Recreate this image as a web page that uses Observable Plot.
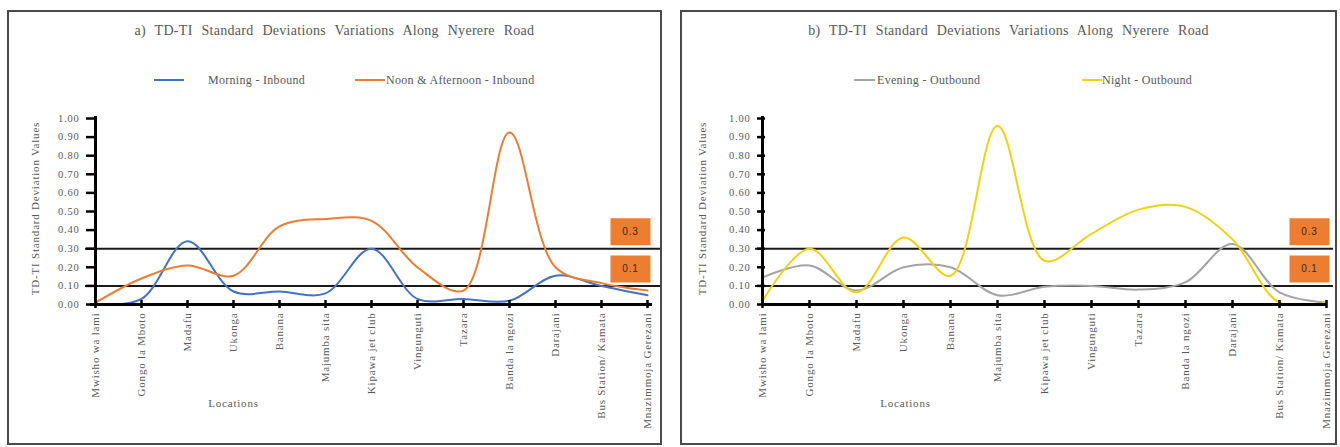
<!DOCTYPE html>
<html>
<head>
<meta charset="utf-8">
<script src="https://cdn.jsdelivr.net/npm/d3@7"></script>
<script src="https://cdn.jsdelivr.net/npm/@observablehq/plot@0.6"></script>
<style>
  html, body { margin: 0; padding: 0; background: #fff; }
  body { width: 1340px; height: 447px; position: relative; overflow: hidden; font-family: "Liberation Serif", serif; color: #595959; }
  .panel { position: absolute; top: 10px; height: 435px; border: 2px solid #4a4a4a; box-sizing: border-box; }
  .panel svg { position: absolute; left: 0; top: 0; }
  .title { position: absolute; top: 11px; left: 0; right: 0; text-align: center; font-size: 14px; word-spacing: 5px; letter-spacing: 0.3px; white-space: nowrap; }
  .sw { position: absolute; height: 2px; }
  .lt { position: absolute; font-size: 12px; line-height: 14px; white-space: nowrap; letter-spacing: 0.3px; }
</style>
</head>
<body>
<div id="pa" class="panel" style="left:7px;width:655px;"></div>
<div id="pb" class="panel" style="left:680px;width:657px;"></div>
<script>
// ---- data ----
const locations = ["Mwisho wa lami","Gongo la Mboto","Madafu","Ukonga","Banana","Majumba sita","Kipawa jet club","Vingunguti","Tazara","Banda la ngozi","Darajani","Bus Station/ Kamata","Mnazimmoja Gerezani"];
const morningInbound   = [0.00, 0.03, 0.34, 0.07, 0.07, 0.06, 0.30, 0.03, 0.03, 0.02, 0.155, 0.10, 0.05];
const noonInbound      = [0.01, 0.14, 0.21, 0.155, 0.42, 0.46, 0.45, 0.20, 0.075, 0.925, 0.20, 0.115, 0.075];
const eveningOutbound  = [0.145, 0.21, 0.075, 0.20, 0.20, 0.05, 0.095, 0.10, 0.08, 0.12, 0.325, 0.065, 0.01];
const nightOutbound    = [0.02, 0.30, 0.065, 0.36, 0.155, 0.96, 0.235, 0.38, 0.51, 0.525, 0.35, 0.01, 0.01];
const thresholds = [0.3, 0.1];
const yTicks = [0, 0.1, 0.2, 0.3, 0.4, 0.5, 0.6, 0.7, 0.8, 0.9, 1.0];
const titleA = "a) TD-TI Standard Deviations Variations Along Nyerere Road";
const titleB = "b) TD-TI Standard Deviations Variations Along Nyerere Road";
const yLabel = "TD-TI Standard Deviation Values";
const xLabel = "Locations";

const textColor = "#595959";
const boxColor = "#ED7D31";

const boxSymbol = { draw(ctx) { ctx.rect(-20, -13.5, 40, 27); } };

function rows(values) { return locations.map((loc, i) => ({loc, v: values[i]})); }

function buildPanel(el, cfg) {
  const W = cfg.width, H = 431;
  const frameW = W - cfg.ml - cfg.mr, frameH = H - 106 - 139;
  const last = locations[locations.length - 1];
  const marks = [
    Plot.ruleY(thresholds, {stroke: "#1a1a1a", strokeWidth: 2, insetLeft: cfg.ruleL, insetRight: cfg.ruleR}),
    ...cfg.series.map(s => Plot.line(rows(s.values), {x: "loc", y: "v", stroke: s.color, strokeWidth: 2, curve: "catmull-rom", clip: true})),
    Plot.ruleX([locations[0]], {stroke: "#000", strokeWidth: 3, insetTop: -2}),
    Plot.ruleY([0], {stroke: "#000", strokeWidth: 3}),
    Plot.ruleY(yTicks, {stroke: "#000", strokeWidth: 2.5, insetLeft: -4, insetRight: frameW - 4}),
    Plot.ruleX(locations, {stroke: "#000", strokeWidth: 2.5, insetTop: frameH - 4, insetBottom: -4}),
    Plot.axisY({ticks: yTicks, tickSize: 0, tickPadding: 11, tickFormat: ".2f", fontSize: 10.5, fill: textColor, label: null}),
    Plot.axisX({tickRotate: -90, tickSize: 0, tickPadding: 8, fontSize: 11, fill: textColor, label: null}),
    Plot.dot(thresholds, {x: () => last, y: d => d, symbol: boxSymbol, fill: boxColor, stroke: null, dx: -17, dy: -17}),
    Plot.text(thresholds, {x: () => last, y: d => d, text: d => String(d), dx: -17, dy: -17, fill: "#3a2a1e", fontSize: 10, fontFamily: "Liberation Sans"}),
    Plot.text([yLabel], {frameAnchor: "left", textAnchor: "middle", rotate: -90, dx: cfg.ylabDx, dy: -3, fontSize: 11, fill: textColor}),
    Plot.text([xLabel], {frameAnchor: "bottom-left", textAnchor: "middle", dx: cfg.xlabDx, dy: 102, fontSize: 11, fill: textColor})
  ];
  const svg = Plot.plot({
    width: W, height: H,
    marginLeft: cfg.ml, marginRight: cfg.mr, marginTop: 106, marginBottom: 139,
    x: {type: "point", domain: locations, padding: 0, axis: null},
    y: {domain: [0, 1], axis: null},
    style: {fontFamily: "Liberation Serif", color: textColor, background: "transparent", overflow: "visible"},
    marks
  });
  svg.querySelectorAll("text").forEach(t => t.setAttribute("letter-spacing", "0.8"));
  el.appendChild(svg);

  const title = document.createElement("div");
  title.className = "title";
  title.textContent = cfg.title;
  el.appendChild(title);

  cfg.legend.forEach(item => {
    const sw = document.createElement("div");
    sw.className = "sw";
    sw.style.left = item.lineX + "px";
    sw.style.width = item.lineW + "px";
    sw.style.top = "67px";
    sw.style.background = item.color;
    el.appendChild(sw);
    const lt = document.createElement("div");
    lt.className = "lt";
    lt.style.left = item.textX + "px";
    lt.style.top = "61px";
    lt.textContent = item.label;
    el.appendChild(lt);
  });
}

buildPanel(document.getElementById("pa"), {
  width: 651, ml: 81, mr: 8, ruleL: -5, ruleR: -8, ylabDx: -55, xlabDx: 143,
  title: titleA,
  series: [
    {values: morningInbound, color: "#4472C4"},
    {values: noonInbound, color: "#ED7D31"}
  ],
  legend: [
    {label: "Morning - Inbound", color: "#4472C4", lineX: 145, lineW: 30, textX: 199},
    {label: "Noon & Afternoon - Inbound", color: "#ED7D31", lineX: 346, lineW: 30, textX: 377}
  ]
});

buildPanel(document.getElementById("pb"), {
  width: 653, ml: 79, mr: 9, ruleL: -6, ruleR: -7, ylabDx: -59, xlabDx: 144,
  title: titleB,
  series: [
    {values: eveningOutbound, color: "#A5A5A5"},
    {values: nightOutbound, color: "#F2D20F"}
  ],
  legend: [
    {label: "Evening - Outbound", color: "#A5A5A5", lineX: 172, lineW: 21, textX: 195},
    {label: "Night - Outbound", color: "#F2D20F", lineX: 400, lineW: 20, textX: 420}
  ]
});
</script>
</body>
</html>
